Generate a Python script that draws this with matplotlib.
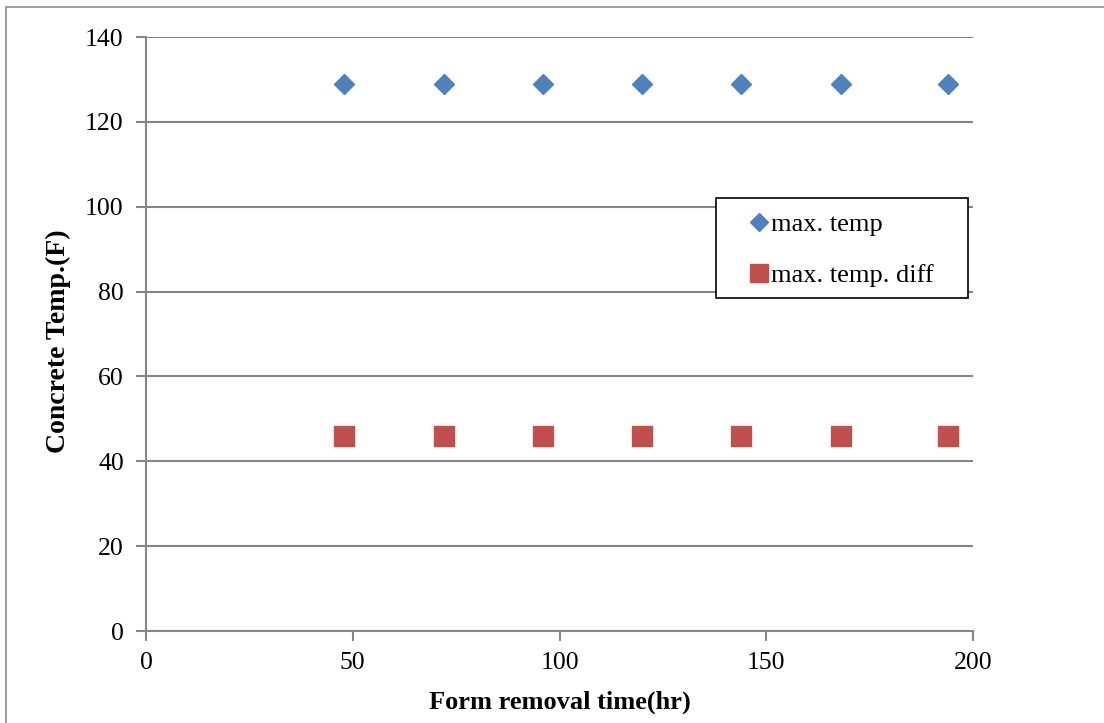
import matplotlib.pyplot as plt
from matplotlib.patches import Rectangle

plt.rcParams['font.family'] = ['Liberation Serif', 'DejaVu Serif']

# data
removal_time = [48, 72, 96, 120, 144, 168, 194]
max_temp = [129, 129, 129, 129, 129, 129, 129]
max_temp_diff = [46, 46, 46, 46, 46, 46, 46]

W, H = 1104, 723
fig = plt.figure(figsize=(W / 100, H / 100), dpi=100)
ax = fig.add_axes([146 / W, 1 - 631 / H, (973 - 146) / W, (631 - 37) / H])


def px_to_axes(x, y):
    # pixel position on the figure -> axes fraction
    return (x - 146) / 827, (631 - y) / 594


# outer frame of the chart area
fig.patches.append(Rectangle((6 / W, -0.01), 1.1, 1 - 7 / H + 0.01,
                             transform=fig.transFigure, fill=False,
                             edgecolor='#8c8c8c', linewidth=1.2))

ax.plot(removal_time, max_temp, linestyle='none', marker='D', markersize=10,
        color='#4F81BD', label='max. temp')
ax.plot(removal_time, max_temp_diff, linestyle='none', marker='s', markersize=14,
        color='#C0504D', label='max. temp. diff')

ax.set_xlim(0, 200)
ax.set_ylim(0, 140)
ax.set_xticks(range(0, 201, 50))
ax.set_yticks(range(0, 141, 20))
ax.yaxis.grid(True, color='#868686', linewidth=1.5)
ax.set_axisbelow(True)
for side in ['top', 'right']:
    ax.spines[side].set_visible(False)
for side in ['left', 'bottom']:
    ax.spines[side].set_color('#868686')
    ax.spines[side].set_linewidth(1.5)
ax.tick_params(axis='both', colors='#868686', labelcolor='black', labelsize=18.5,
               length=7, width=1.5)
ax.tick_params(axis='y', pad=9)
ax.tick_params(axis='x', pad=8)

ax.set_xlabel('Form removal time(hr)', fontsize=19, fontweight='bold', labelpad=12)
ax.set_ylabel('Concrete Temp.(F)', fontsize=20, fontweight='bold')
ax.yaxis.set_label_coords(*px_to_axes(71, 341))

# legend box drawn separately so its padding matches the reference
x0, y0 = px_to_axes(716, 298)
x1, y1 = px_to_axes(968, 198)
ax.add_patch(Rectangle((x0, y0), x1 - x0, y1 - y0, transform=ax.transAxes,
                       facecolor='white', edgecolor='black', linewidth=1.2,
                       zorder=4))
leg = ax.legend(loc='center left', bbox_to_anchor=px_to_axes(746, 250),
                fontsize=19, frameon=False,
                handletextpad=0.0, handlelength=0.95, labelspacing=1.05,
                borderpad=0, borderaxespad=0, markerscale=0.95)
leg.set_zorder(5)

fig.savefig('out.png', dpi=100)
